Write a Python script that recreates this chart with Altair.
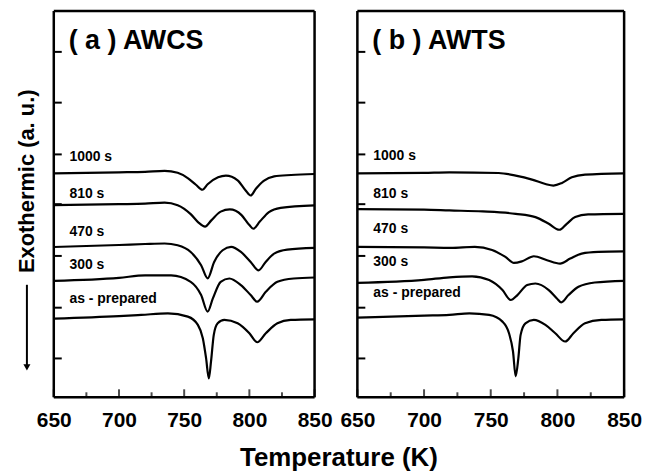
import altair as alt
import pandas as pd

FONT = "Liberation Sans"

# ---------------- data (signal in arbitrary units) ----------------
# Panel (a) AWCS
a_1000_T = [650, 700, 720, 735, 745, 753, 759, 764, 768, 776, 782, 791, 797, 801, 805, 811, 819, 832, 850]
a_1000_v = [229, 230, 230.5, 231.5, 229.5, 224, 217.5, 212.5, 218, 225, 226.7, 222, 212, 206.7, 213.5, 221.5, 226, 227.3, 228.3]
a_810_T = [650, 700, 720, 735, 745, 755, 761, 766, 771, 778, 785, 794, 800, 803, 808, 815, 824, 850]
a_810_v = [197, 198, 198.5, 199.5, 197, 188, 179.5, 175.5, 182, 190.5, 192.7, 187, 177, 173.3, 180.5, 190, 194.3, 196.7]
a_470_T = [650, 700, 720, 735, 745, 755, 763, 768, 773, 779.5, 786, 793.5, 801, 807, 812.5, 819, 829, 850]
a_470_v = [155, 157, 158, 158.5, 156.7, 150, 136.7, 123.5, 140, 151.7, 155, 150, 140, 131.5, 140, 148.3, 152.3, 154]
a_300_T = [650, 700, 720, 740, 755, 763, 768, 772, 778, 784.6, 793.5, 801, 806, 812.6, 821.5, 834, 850]
a_300_v = [121, 124, 126.5, 126.5, 120, 106.7, 90, 103.3, 120, 123.3, 116.7, 106.7, 100, 110, 120, 123.3, 124.3]
a_as_T = [650, 700, 717, 737.5, 752.8, 760.5, 764.3, 766.8, 768.9, 770.6, 772.7, 775.7, 780.8, 791, 800, 806, 812.6, 821.5, 831.7, 850]
a_as_v = [83, 85.5, 86.7, 88.3, 85, 76.7, 63.3, 43.3, 23, 40, 66.7, 78.3, 81.7, 78.3, 68.3, 59.3, 68.3, 78.3, 81.7, 82.3]

# Panel (b) AWTS
b_1000_T = [650, 700, 719, 756, 768.7, 781, 791, 797, 803.4, 810.8, 820.7, 850]
b_1000_v = [229, 229.5, 230, 229.3, 226.7, 222.7, 218.3, 216.7, 219.3, 225, 227.7, 229]
b_810_T = [650, 700, 719, 744, 768.7, 783.5, 793.5, 801.4, 807, 813.3, 823, 850]
b_810_v = [193, 192.5, 191.7, 190.7, 188.3, 185, 178.3, 172.3, 178.3, 185, 187.7, 188.3]
b_470_T = [650, 700, 720, 738, 751, 761, 767.4, 773.6, 782.3, 792.2, 802, 809.6, 818.2, 830.6, 850]
b_470_v = [155, 154.5, 154, 155, 152, 145, 139, 140.7, 145.7, 141.7, 138.3, 143.3, 148.3, 150, 150.5]
b_300_T = [650, 700, 719, 736, 748.8, 758.8, 765, 770, 777.3, 783.5, 793.5, 799.6, 802.9, 808.3, 815.8, 828, 850]
b_300_v = [119, 122, 124.5, 125.5, 121.7, 111.7, 101.7, 106.7, 116.7, 118.3, 111.7, 103.3, 99.3, 106.7, 115, 119.3, 121]
b_as_T = [650, 700, 719, 734, 748.8, 758.8, 763.7, 766.7, 768.7, 770.7, 772.4, 776, 782.3, 791, 798.4, 805.8, 812, 820.7, 833, 850]
b_as_v = [84, 86, 86.7, 88.3, 86.7, 80, 68.3, 50, 25, 43.3, 66.7, 78.3, 81.7, 76.7, 68.3, 60, 68.3, 78.3, 81.7, 82.3]

curve_names = ["1000 s", "810 s", "470 s", "300 s", "as - prepared"]
a_label_v = [245, 208.3, 170, 136.7, 103]
b_label_v = [246, 208.3, 173.3, 140, 108.3]
label_T = 662

panel_titles = ["( a ) AWCS", "( b ) AWTS"]
x_title = ["Temperature (K)"]
y_title = ["Exothermic (a. u.)"]

x_major = [650, 700, 750, 800, 850]
x_minor = [675, 725, 775, 825]
y_ticks = [43, 94, 146, 198, 248, 300, 351]

X_DOMAIN = [650, 850]
Y_DOMAIN = [4, 392]
H = 388


def curves_df(series):
    rows = []
    for name, Ts, vs in series:
        for T, v in zip(Ts, vs):
            rows.append({"curve": name, "T": T, "v": v})
    return pd.DataFrame(rows)


def one():
    return pd.DataFrame({"a": [0]})


def panel(series, label_vals, title, width, extra=None):
    df = curves_df(series)
    xs = alt.Scale(domain=X_DOMAIN, nice=False, zero=False)
    ys = alt.Scale(domain=Y_DOMAIN, nice=False, zero=False)

    lines = alt.Chart(df).mark_line(color="black", strokeWidth=2.2, interpolate="monotone").encode(
        x=alt.X("T:Q", scale=xs, axis=alt.Axis(
            values=x_major, ticks=False, tickSize=0, domain=False, grid=False, title=None,
            labelFont=FONT, labelFontSize=21, labelFontWeight="bold", labelColor="black",
            labelPadding=12, labelFlush=False, labelOverlap=False, format="d")),
        y=alt.Y("v:Q", scale=ys, axis=None),
        detail="curve:N",
    )

    # inward tick stubs
    major = alt.Chart(pd.DataFrame({"t": x_major})).mark_tick(
        color="black", orient="vertical", size=8, thickness=2).encode(
        x=alt.X("t:Q", scale=xs), y=alt.value(H - 4))
    minor = alt.Chart(pd.DataFrame({"t": x_minor})).mark_tick(
        color="black", orient="vertical", size=5, thickness=2).encode(
        x=alt.X("t:Q", scale=xs), y=alt.value(H - 2.5))
    yt = alt.Chart(pd.DataFrame({"t": y_ticks})).mark_rule(color="black", strokeWidth=2).encode(
        y=alt.Y("t:Q", scale=ys), x=alt.value(0), x2=alt.value(8))

    frame = [
        alt.Chart(one()).mark_rule(color="black", strokeWidth=2.5).encode(
            x=alt.value(0), x2=alt.value(width), y=alt.value(0)),
        alt.Chart(one()).mark_rule(color="black", strokeWidth=2.5).encode(
            x=alt.value(0), x2=alt.value(width), y=alt.value(H)),
        alt.Chart(one()).mark_rule(color="black", strokeWidth=2.5).encode(
            x=alt.value(0), y=alt.value(0), y2=alt.value(H)),
        alt.Chart(one()).mark_rule(color="black", strokeWidth=2.5).encode(
            x=alt.value(width), y=alt.value(0), y2=alt.value(H)),
    ]

    labels = alt.Chart(pd.DataFrame({"name": curve_names, "v": label_vals, "T": [label_T] * 5})).mark_text(
        align="left", baseline="middle", font=FONT, fontSize=14, fontWeight="bold", color="black").encode(
        x=alt.X("T:Q", scale=xs), y=alt.Y("v:Q", scale=ys), text="name:N")

    ttl = alt.Chart(pd.DataFrame({"t": [title]})).mark_text(
        align="left", baseline="alphabetic", font=FONT, fontSize=27, fontWeight="bold", color="black").encode(
        x=alt.value(15), y=alt.value(38), text="t:N")

    layers = [lines, major, minor, yt] + frame + [labels, ttl]
    if extra:
        layers += extra
    return alt.layer(*layers).properties(width=width, height=H)


# decorations for panel a (axis titles outside the plot area)
ytitle = alt.Chart(pd.DataFrame({"t": y_title})).mark_text(
    angle=270, align="center", baseline="middle", font=FONT, fontSize=22, fontWeight="bold", color="black").encode(
    x=alt.value(-27), y=alt.value(171), text="t:N")
arrow_line = alt.Chart(one()).mark_rule(color="black", strokeWidth=2).encode(
    x=alt.value(-27), y=alt.value(275), y2=alt.value(356))
arrow_head = alt.Chart(one()).mark_point(
    shape="triangle-down", filled=True, color="black", size=50, opacity=1).encode(
    x=alt.value(-27), y=alt.value(358))
xtitle = alt.Chart(pd.DataFrame({"t": x_title})).mark_text(
    align="center", baseline="middle", font=FONT, fontSize=26, fontWeight="bold", color="black").encode(
    x=alt.value(286.5), y=alt.value(449), text="t:N")

pa = panel([("1000 s", a_1000_T, a_1000_v), ("810 s", a_810_T, a_810_v), ("470 s", a_470_T, a_470_v),
            ("300 s", a_300_T, a_300_v), ("as - prepared", a_as_T, a_as_v)],
           a_label_v, panel_titles[0], 262, [ytitle, arrow_line, arrow_head, xtitle])
pb = panel([("1000 s", b_1000_T, b_1000_v), ("810 s", b_810_T, b_810_v), ("470 s", b_470_T, b_470_v),
            ("300 s", b_300_T, b_300_v), ("as - prepared", b_as_T, b_as_v)],
           b_label_v, panel_titles[1], 268)

chart = alt.hconcat(pa, pb, spacing=43, bounds="flush").properties(
    padding={"left": 7, "top": 0, "right": 5, "bottom": 0}
).configure_view(stroke="black", strokeWidth=2).configure(background="white")

chart.save("out.html", embed_options={"renderer": "svg", "actions": False})
